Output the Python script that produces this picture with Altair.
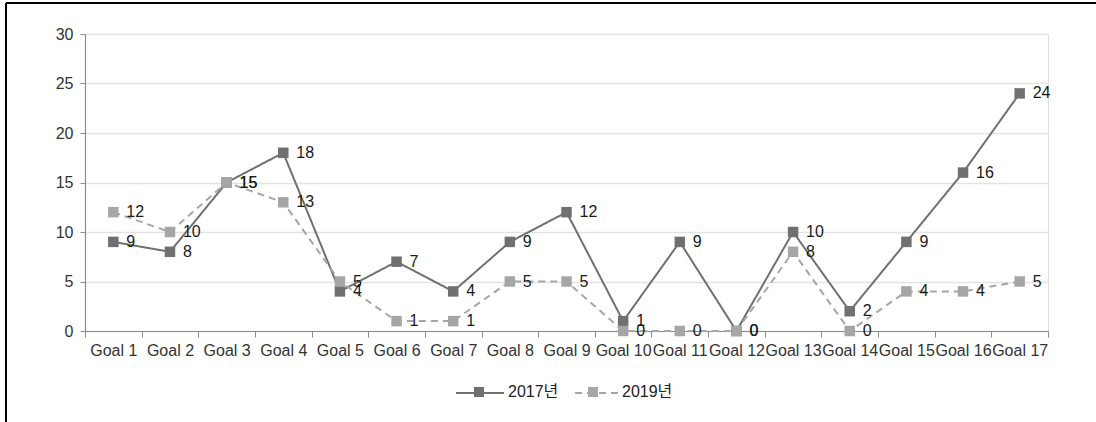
import altair as alt
import pandas as pd

# SDG goal categories and counts per survey year
goals = [f"Goal {i}" for i in range(1, 18)]
years = ["2017년", "2019년"]
counts_2017 = [9, 8, 15, 18, 4, 7, 4, 9, 12, 1, 9, 0, 10, 2, 9, 16, 24]
counts_2019 = [12, 10, 15, 13, 5, 1, 1, 5, 5, 0, 0, 0, 8, 0, 4, 4, 5]
y_ticks = [0, 5, 10, 15, 20, 25, 30]

series_colors = ["#707070", "#a6a6a6"]
series_dashes = [[1, 0], [7, 5]]

rows = []
for yr, vals in zip(years, [counts_2017, counts_2019]):
    for g, v in zip(goals, vals):
        rows.append({"goal": g, "year": yr, "marker": yr, "value": v})
df = pd.DataFrame(rows)

FONT = "Liberation Sans, Noto Sans CJK KR, sans-serif"
FS = 16
W, H = 963, 297
PAD = {"left": 85, "top": 34, "right": 1096 - 85 - W, "bottom": 422 - 34 - H}

x_enc = alt.X(
    "goal:N",
    sort=goals,
    scale=alt.Scale(paddingInner=0, paddingOuter=0),
    axis=alt.Axis(
        title=None,
        labelAngle=0,
        tickBand="extent",
        tickSize=6,
        tickColor="#8c8c8c",
        domainColor="#8c8c8c",
        domainWidth=1.2,
        labelFontSize=FS,
        labelColor="#333333",
        labelPadding=5,
        labelFont=FONT,
        grid=False,
    ),
)
y_enc = alt.Y(
    "value:Q",
    scale=alt.Scale(domain=[0, 30], nice=False),
    axis=alt.Axis(
        title=None,
        values=y_ticks,
        tickSize=5,
        tickColor="#8c8c8c",
        domainColor="#8c8c8c",
        domainWidth=1.2,
        gridColor="#e3e3e3",
        gridWidth=1.5,
        labelFontSize=FS,
        labelColor="#333333",
        labelPadding=7,
        labelFont=FONT,
    ),
)

color_scale = alt.Scale(domain=years, range=series_colors)
dash_scale = alt.Scale(domain=years, range=series_dashes)
# same mapping, listed in reverse so the marker legend stays a legend of its own
marker_scale = alt.Scale(domain=years[::-1], range=series_colors[::-1])

# Two legends share one spot: the line legend draws the (dashed) segments,
# the marker legend draws the filled squares and the labels on top of them.
legend_common = dict(
    title=None,
    orient="none",
    direction="horizontal",
    legendX=370,
    legendY=334,
    padding=0,
    values=years,
    symbolSize=2304,
    labelFontSize=FS,
    labelColor="#222222",
    labelFont=FONT,
    labelOffset=5,
    columnPadding=10,
)
line_legend = alt.Legend(
    symbolType="M-1,0H1",
    symbolStrokeWidth=2,
    labelOpacity=0,
    **legend_common,
)
marker_legend = alt.Legend(
    symbolType="M-0.21,-0.21H0.21V0.21H-0.21Z",
    symbolStrokeWidth=0,
    symbolOpacity=1,
    **legend_common,
)

lines = alt.Chart(df).mark_line(strokeWidth=2).encode(
    x=x_enc,
    y=y_enc,
    stroke=alt.Stroke("year:N", scale=color_scale, legend=line_legend),
    strokeDash=alt.StrokeDash("year:N", scale=dash_scale, legend=line_legend),
)

markers = alt.Chart(df).mark_point(
    shape="square", size=110, filled=True, opacity=1, strokeWidth=0
).encode(
    x=x_enc,
    y=y_enc,
    fill=alt.Fill("marker:N", scale=marker_scale, legend=marker_legend),
)

labels = alt.Chart(df).mark_text(
    align="left", baseline="middle", dx=13, fontSize=FS, color="#1a1a1a", font=FONT
).encode(x=x_enc, y=y_enc, text="value:Q")

frame_src = pd.DataFrame({"k": [0]})
frame_top = alt.Chart(frame_src).mark_rule(color="#000000", strokeWidth=2).encode(
    x=alt.value(-79), x2=alt.value(1096), y=alt.value(-31)
)
frame_left = alt.Chart(frame_src).mark_rule(color="#000000", strokeWidth=2).encode(
    x=alt.value(-79), y=alt.value(-31), y2=alt.value(400)
)

chart = (
    alt.layer(lines, markers, labels, frame_top, frame_left)
    .properties(width=W, height=H, padding=PAD, autosize=alt.AutoSizeParams(type="none"))
    .configure_view(stroke=None)
    .configure(font=FONT, background="#ffffff")
)

chart.save("out.html", embed_options={"renderer": "svg", "actions": False})
